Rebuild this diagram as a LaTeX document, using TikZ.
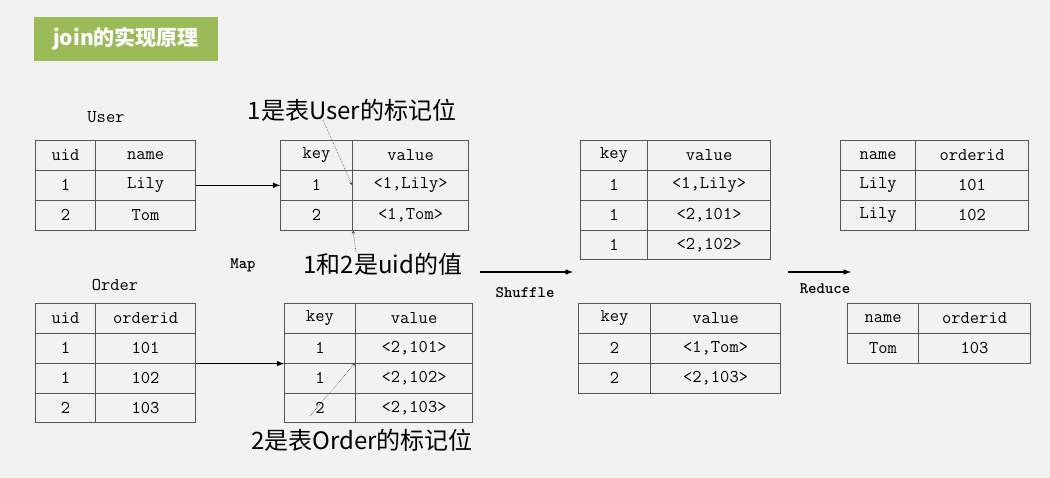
\documentclass[tikz,border=0pt]{standalone}
\usepackage{fontspec}
\newfontfamily\cjk{Noto Sans CJK SC}
\usetikzlibrary{matrix,positioning}
\definecolor{bg}{HTML}{F2F2F2}
\definecolor{titlegreen}{HTML}{9BBB59}
\definecolor{gridgray}{HTML}{555555}

\tikzset{
  tbl/.style={matrix of nodes, anchor=north west, inner sep=0pt,
    column sep=-0.8pt, row sep=-0.8pt,
    nodes={draw=gridgray, line width=0.8pt, minimum height=29.8pt,
      inner sep=0pt, font=\ttfamily\fontsize{18}{18}\selectfont, anchor=center}},
  cw/.style 2 args={column #1/.style={nodes={minimum width=#2pt}}},
  lbl/.style={font=\ttfamily\fontsize{18}{18}\selectfont},
  stage/.style={font=\ttfamily\bfseries\fontsize{16}{16}\selectfont},
  note/.style={font=\cjk\fontsize{24}{24}\selectfont},
  flow/.style={-latex, line width=1.5pt},
  hint/.style={-stealth, densely dotted, gray!60!black, line width=0.6pt},
}

\begin{document}
\begin{tikzpicture}[x=1pt,y=-1pt]
      \fill [bg] (0,0) rectangle (1050,478);
      \useasboundingbox (0,0) rectangle (1050,478);

      % title
      \fill [titlegreen] (34,17) rectangle (218,61);
      \node [font=\cjk\bfseries\fontsize{21}{21}\selectfont, white] (title) at (126,39) {join的实现原理};

      % input tables
      \node [lbl] (userlbl) at (106,117) {User};
      \matrix (user) [tbl, cw={1}{60}, cw={2}{100}] at (35,140) {
        uid & name \\ 1 & Lily \\ 2 & Tom \\ };
      \node [lbl] (orderlbl) at (115,285) {Order};
      \matrix (order) [tbl, cw={1}{60}, cw={2}{100}] at (35,303) {
        uid & orderid \\ 1 & 101 \\ 1 & 102 \\ 2 & 103 \\ };

      % map output
      \matrix (kvu) [tbl, cw={1}{72}, cw={2}{116}] at (280,140) {
        key & value \\ 1 & {<1,Lily>} \\ 2 & {<1,Tom>} \\ };
      \matrix (kvo) [tbl, cw={1}{71}, cw={2}{117}] at (284,303) {
        key & value \\ 1 & {<2,101>} \\ 1 & {<2,102>} \\ 2 & {<2,103>} \\ };

      % shuffle output
      \matrix (grp1) [tbl, cw={1}{67}, cw={2}{123}] at (580,140) {
        key & value \\ 1 & {<1,Lily>} \\ 1 & {<2,101>} \\ 1 & {<2,102>} \\ };
      \matrix (grp2) [tbl, cw={1}{72}, cw={2}{130}] at (578,303) {
        key & value \\ 2 & {<1,Tom>} \\ 2 & {<2,103>} \\ };

      % reduce output
      \matrix (res1) [tbl, cw={1}{75}, cw={2}{113}] at (840,140) {
        name & orderid \\ Lily & 101 \\ Lily & 102 \\ };
      \matrix (res2) [tbl, cw={1}{71}, cw={2}{112}] at (847,303) {
        name & orderid \\ Tom & 103 \\ };

      % stages
      \node [stage] (map) at (243,265) {Map};
      \node [stage] (shuffle) at (525,293) {Shuffle};
      \node [stage] (reduce) at (825,289) {Reduce};
      \coordinate (shA) at (480,272);
      \coordinate (shB) at (573,272);
      \coordinate (reA) at (788,272);
      \coordinate (reB) at (851,272);
      \draw [flow] (user-2-2.east) -- (kvu-2-1.west);
      \draw [flow] (order-2-2.south east) -- (kvo-2-1.south west);
      \draw [flow] (shA) -- (shB);
      \draw [flow] (reA) -- (reB);

      % notes
      \node [note] (tagu) at (352,110) {1是表User的标记位};
      \node [note] (uidnote) at (383,264) {1和2是uid的值};
      \node [note] (tago) at (362,440) {2是表Order的标记位};
      \draw [hint] (323,120) -- (kvu-2-2.west);
      \draw [hint] (356,252) -- (kvu-3-1.south east);
      \draw [hint] (kvo-4-1.center) ++(-10,8) -- (kvo-3-2.north west);
\end{tikzpicture}
\end{document}
